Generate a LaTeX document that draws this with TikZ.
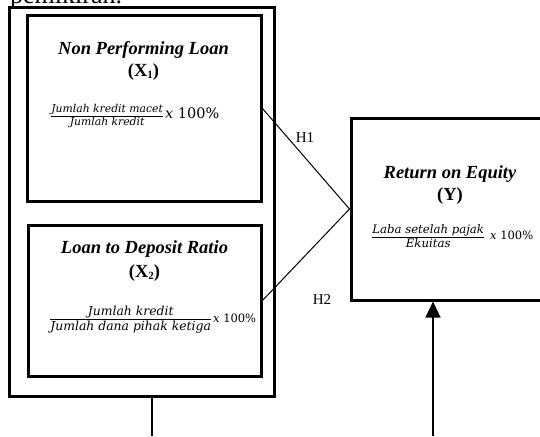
\documentclass[tikz,border=0pt]{standalone}
\usepackage{fontspec}
\setmainfont{Liberation Serif}
\newfontfamily\fr{DejaVu Serif}
\usetikzlibrary{arrows.meta}
\begin{document}
\begin{tikzpicture}[x=1pt,y=-1pt,
  box/.style={draw,line width=3pt,inner sep=0pt},
  ttl/.style={font=\fontsize{18.5}{20}\selectfont\bfseries\itshape, inner sep=0pt, anchor=base},
  sym/.style={font=\fontsize{18.5}{20}\selectfont\bfseries, inner sep=0pt, anchor=base},
  hlab/.style={font=\fontsize{15}{17}\selectfont, inner sep=0pt},
  frm/.style={inner sep=0pt, anchor=west},
  link/.style={line width=1pt},
]
\useasboundingbox (0,0) rectangle (540,436);
\clip (0,0) rectangle (540,436);
\node[anchor=base west, font=\fontsize{26}{28}\selectfont, inner sep=0pt] (top) at (10,4) {pemikiran.};
% boxes
\node[box, minimum width=265pt, minimum height=388pt] (outer) at (141.5,202) {};
\node[box, minimum width=234pt, minimum height=185pt] (npl) at (144,108.5) {};
\node[box, minimum width=233pt, minimum height=151pt] (ldr) at (144.5,300.5) {};
\node[box, minimum width=198pt, minimum height=182pt] (roe) at (450,209) {};
% NPL text
\node[ttl] (t1) at (143.5,55) {Non Performing Loan};
\node[sym] (s1) at (143.5,76.5) {(X\raisebox{-2pt}{\fontsize{11}{11}\selectfont 1})};
\node[frm] (f1) at (50,116) {$\displaystyle\frac{\hbox{\fr\itshape\fontsize{10.8}{12}\selectfont Jumlah kredit macet}}{\hbox{\fr\itshape\fontsize{10.8}{12}\selectfont Jumlah kredit}}$\hspace{1pt}{\fr\fontsize{14.5}{16}\selectfont\itshape x\upshape\ 100\%}};
% LDR text
\node[ttl] (t2) at (144.5,253) {Loan to Deposit Ratio};
\node[sym] (s2) at (144.5,277) {(X\raisebox{-2pt}{\fontsize{11}{11}\selectfont 2})};
\node[frm] (f2) at (49,319.5) {$\displaystyle\frac{\hbox{\fr\itshape\fontsize{12.4}{14}\selectfont Jumlah kredit}}{\hbox{\fr\itshape\fontsize{12.4}{14}\selectfont Jumlah dana pihak ketiga}}$\hspace{1pt}{\fr\fontsize{11.5}{13}\selectfont\itshape x\upshape\ 100\%}};
% ROE text
\node[ttl] (t3) at (450,178) {Return on Equity};
\node[sym] (s3) at (450,200) {(Y)};
\node[frm] (f3) at (371,236) {$\displaystyle\frac{\hbox{\fr\itshape\fontsize{11.7}{13}\selectfont Laba setelah pajak}}{\hbox{\fr\itshape\fontsize{11.7}{13}\selectfont Ekuitas}}$\hspace{5pt}{\fr\fontsize{11.5}{13}\selectfont\itshape x\upshape\ 100\%}};
% connectors
\draw[link] (npl.east) -- (roe.west);
\draw[link] (ldr.east) -- (roe.west);
\node[hlab] (h1) at (305,137.5) {H1};
\node[hlab] (h2) at (322,300) {H2};
\coordinate (b) at (152,436);
\draw[line width=1.2pt] (outer.south -| b) -- (b);
\coordinate (a) at (433,436);
\draw[line width=1.2pt, -{Triangle[length=16pt,width=15pt]}] (a) -- (a |- roe.south);
\end{tikzpicture}
\end{document}
